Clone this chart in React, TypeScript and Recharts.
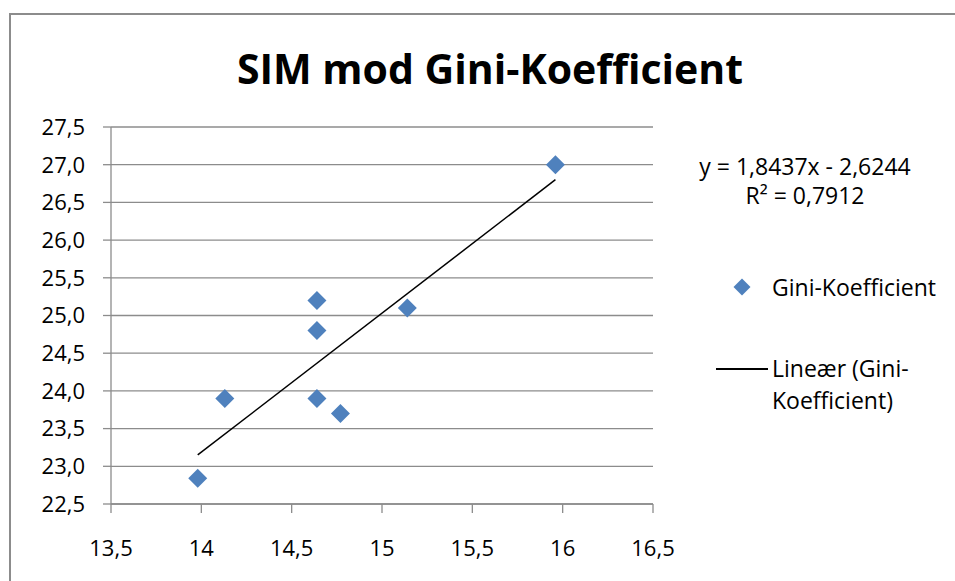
import React from 'react';
import {
  ScatterChart,
  Scatter,
  XAxis,
  YAxis,
  CartesianGrid,
  ReferenceLine,
} from 'recharts';

// SIM values (x) and Gini coefficient (y)
const simValues = [13.98, 14.13, 14.64, 14.64, 14.64, 14.77, 15.14, 15.96];
const giniValues = [22.84, 23.9, 25.2, 24.8, 23.9, 23.7, 25.1, 27.0];

const xTicks = [13.5, 14, 14.5, 15, 15.5, 16, 16.5];
const yTicks = [22.5, 23, 23.5, 24, 24.5, 25, 25.5, 26, 26.5, 27, 27.5];

// linear trendline as printed on the chart
const slope = 1.8437;
const intercept = -2.6244;
const equationText = 'y = 1,8437x - 2,6244';
const rSquaredText = 'R² = 0,7912';
const seriesName = 'Gini-Koefficient';
const trendName = ['Lineær (Gini-', 'Koefficient)'];

const points = simValues.map((x, i) => ({ sim: x, gini: giniValues[i] }));
const xMin = Math.min(...simValues);
const xMax = Math.max(...simValues);

const FONT = '"Open Sans", sans-serif';
const GRID = '#8c8c8c';
const BLUE = '#4f81bd';

const fmtX = (v: number) => (Number.isInteger(v) ? String(v) : v.toFixed(1).replace('.', ','));
const fmtY = (v: number) => v.toFixed(1).replace('.', ',');

const Diamond = (props: any) => {
  const { cx, cy } = props;
  const r = 9.5;
  return (
    <polygon
      points={`${cx},${cy - r} ${cx + r},${cy} ${cx},${cy + r} ${cx - r},${cy}`}
      fill={BLUE}
    />
  );
};

const LegendBox = () => (
  <div style={{ position: 'absolute', left: 0, top: 0, fontFamily: FONT, fontSize: 23, color: '#000' }}>
    <div style={{ position: 'absolute', left: 655, top: 152, width: 300, textAlign: 'center', lineHeight: '29px' }}>
      <div>{equationText}</div>
      <div>{rSquaredText}</div>
    </div>
    <svg style={{ position: 'absolute', left: 732, top: 277 }} width={20} height={20}>
      <polygon points="10,1.5 18.5,10 10,18.5 1.5,10" fill={BLUE} />
    </svg>
    <div style={{ position: 'absolute', left: 772, top: 270, lineHeight: '34px', whiteSpace: 'nowrap' }}>
      {seriesName}
    </div>
    <div style={{ position: 'absolute', left: 716, top: 368, width: 52, borderTop: '2px solid #000' }} />
    <div style={{ position: 'absolute', left: 772, top: 352, lineHeight: '32px', whiteSpace: 'nowrap' }}>
      <div>{trendName[0]}</div>
      <div>{trendName[1]}</div>
    </div>
  </div>
);

export default function App() {
  return (
    <div style={{ position: 'absolute', left: 0, top: 0, width: 955, height: 581, background: '#fff', overflow: 'hidden' }}>
      <div
        style={{
          position: 'absolute',
          left: 9,
          top: 13,
          width: 960,
          height: 600,
          borderLeft: `2px solid ${GRID}`,
          borderTop: `2px solid ${GRID}`,
        }}
      />
      <div
        style={{
          position: 'absolute',
          left: 0,
          top: 39,
          width: 980,
          textAlign: 'center',
          fontFamily: FONT,
          fontWeight: 700,
          fontSize: 41,
          lineHeight: '58px',
          color: '#000',
        }}
      >
        SIM mod Gini-Koefficient
      </div>
      <ScatterChart
        width={955}
        height={581}
        margin={{ top: 127, right: 302, bottom: 0, left: 0 }}
        style={{ position: 'absolute', left: 0, top: 0 }}
      >
        <CartesianGrid horizontal vertical={false} stroke={GRID} strokeWidth={1.3} />
        <XAxis
          type="number"
          dataKey="sim"
          domain={[13.5, 16.5]}
          ticks={xTicks}
          tickFormatter={fmtX}
          height={77}
          stroke={GRID}
          strokeWidth={1.3}
          tickSize={9}
          tickMargin={27}
          tick={{ fill: '#000', fontFamily: FONT, fontSize: 22 }}
          interval={0}
        />
        <YAxis
          type="number"
          dataKey="gini"
          domain={[22.5, 27.5]}
          ticks={yTicks}
          tickFormatter={fmtY}
          width={111}
          stroke={GRID}
          strokeWidth={1.3}
          tickSize={8}
          tickMargin={18}
          tick={{ fill: '#000', fontFamily: FONT, fontSize: 22 }}
          interval={0}
        />
        <ReferenceLine
          segment={[
            { x: xMin, y: slope * xMin + intercept },
            { x: xMax, y: slope * xMax + intercept },
          ]}
          stroke="#000"
          strokeWidth={1.5}
        />
        <Scatter data={points} shape={<Diamond />} isAnimationActive={false} />
      </ScatterChart>
      <LegendBox />
    </div>
  );
}
